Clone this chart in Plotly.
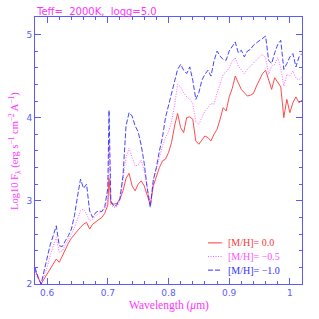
import plotly.graph_objects as go

wavelength = [0.580, 0.585, 0.590, 0.595, 0.600, 0.605, 0.610, 0.615, 0.620, 0.625,
              0.630, 0.635, 0.640, 0.645, 0.650, 0.655, 0.660, 0.665, 0.670, 0.675,
              0.680, 0.685, 0.690, 0.695, 0.700, 0.702, 0.705, 0.710, 0.715, 0.720,
              0.725, 0.730, 0.735, 0.740, 0.745, 0.750, 0.755, 0.760, 0.765, 0.770,
              0.775, 0.780, 0.785, 0.790, 0.795, 0.800, 0.805, 0.810, 0.815, 0.820,
              0.825, 0.830, 0.835, 0.840, 0.845, 0.850, 0.855, 0.860, 0.865, 0.870,
              0.875, 0.880, 0.885, 0.890, 0.895, 0.900, 0.905, 0.910, 0.915, 0.920,
              0.925, 0.930, 0.935, 0.940, 0.945, 0.950, 0.955, 0.960, 0.965, 0.970,
              0.975, 0.980, 0.985, 0.990, 0.995, 1.000, 1.005, 1.010, 1.015, 1.020]

flux_m00 = [2.17, 2.08, 2.00, 2.06, 2.12, 2.18, 2.24, 2.30, 2.26, 2.34,
            2.40, 2.49, 2.55, 2.60, 2.64, 2.68, 2.72, 2.74, 2.66, 2.72,
            2.75, 2.78, 2.80, 2.85, 2.95, 3.27, 2.97, 2.96, 2.97, 3.02,
            3.12, 3.27, 3.33, 3.18, 3.12, 3.20, 3.24, 3.18, 3.05, 2.95,
            3.18, 3.30, 3.40, 3.48, 3.50, 3.58, 3.70, 3.90, 4.05, 3.88,
            3.82, 4.00, 4.01, 3.98, 3.72, 3.68, 3.73, 3.78, 3.76, 3.72,
            3.80, 3.86, 3.98, 4.12, 4.08, 4.25, 4.35, 4.50, 4.42, 4.34,
            4.30, 4.26, 4.27, 4.29, 4.38, 4.45, 4.53, 4.57, 4.45, 4.34,
            4.48, 4.42, 4.37, 4.00, 4.22, 4.06, 4.18, 4.25, 4.18, 4.21]

flux_m05 = [2.15, 2.06, 2.00, 2.10, 2.20, 2.34, 2.44, 2.56, 2.38, 2.40,
            2.47, 2.53, 2.60, 2.68, 2.78, 2.88, 2.90, 2.84, 2.76, 2.78,
            2.82, 2.85, 2.87, 2.90, 3.02, 3.70, 2.95, 2.92, 2.93, 3.00,
            3.25, 3.52, 3.63, 3.52, 3.42, 3.43, 3.49, 3.36, 3.15, 2.95,
            3.25, 3.40, 3.52, 3.66, 3.76, 3.83, 3.95, 4.15, 4.40, 4.37,
            4.30, 4.25, 4.22, 4.17, 3.95, 3.92, 4.00, 4.08, 4.12, 4.17,
            4.16, 4.30, 4.40, 4.52, 4.55, 4.60, 4.68, 4.72, 4.62, 4.57,
            4.53, 4.58, 4.62, 4.66, 4.70, 4.73, 4.76, 4.72, 4.52, 4.62,
            4.64, 4.72, 4.60, 4.38, 4.52, 4.50, 4.56, 4.48, 4.45, 4.49]

flux_m10 = [2.20, 2.08, 2.00, 2.15, 2.30, 2.47, 2.58, 2.70, 2.46, 2.45,
            2.52, 2.58, 2.66, 2.82, 3.05, 3.26, 3.15, 3.20, 2.88, 2.80,
            2.86, 2.88, 2.87, 2.93, 3.15, 4.09, 3.00, 2.93, 2.95, 3.03,
            3.30, 3.90, 4.06, 4.02, 3.90, 3.83, 3.67, 3.45, 3.15, 2.92,
            3.25, 3.40, 3.60, 3.76, 4.00, 4.15, 4.30, 4.45, 4.58, 4.64,
            4.57, 4.53, 4.61, 4.45, 4.22, 4.30, 4.45, 4.52, 4.57, 4.50,
            4.68, 4.80, 4.74, 4.70, 4.69, 4.80, 4.86, 4.91, 4.78, 4.81,
            4.73, 4.80, 4.82, 4.87, 4.90, 4.93, 4.96, 4.98, 4.69, 4.65,
            4.78, 4.88, 4.93, 4.58, 4.65, 4.73, 4.77, 4.61, 4.73, 4.77]

series_labels = ["[M/H]= 0.0", "[M/H]= \u22120.5", "[M/H]= \u22121.0"]
series_colors = ["#ff3838", "#ff50ff", "#2f2fff"]
series_dash = ["solid", "1px,1.5px", "5px,2px"]
x_ticks = [0.6, 0.7, 0.8, 0.9, 1.0]
x_tick_text = ["0.6", "0.7", "0.8", "0.9", "1"]
y_ticks = [2, 3, 4, 5]

axis_blue = "#5a5aff"
magenta = "#ff33ff"

fig = go.Figure()
for ys, col, dash in zip([flux_m00, flux_m05, flux_m10], series_colors, series_dash):
    fig.add_trace(go.Scatter(x=wavelength, y=ys, mode="lines",
                             line=dict(color=col, width=0.9, dash=dash),
                             showlegend=False, hoverinfo="skip"))

common_axis = dict(showline=True, linecolor=axis_blue, linewidth=1, mirror="allticks",
                   ticks="inside", ticklen=6, tickcolor=axis_blue, tickwidth=1,
                   showgrid=False, zeroline=False,
                   tickfont=dict(family="DejaVu Sans", size=9, color=axis_blue))

fig.update_xaxes(range=[0.58, 1.02], tickvals=x_ticks, ticktext=x_tick_text,
                 minor=dict(dtick=0.02, tick0=0.6, ticks="inside", ticklen=3,
                            tickcolor=axis_blue, showgrid=False),
                 **common_axis)
fig.update_yaxes(range=[2, 5.21], tickvals=y_ticks,
                 minor=dict(dtick=0.2, tick0=2, ticks="inside", ticklen=3,
                            tickcolor=axis_blue, showgrid=False),
                 **common_axis)

annotations = [
    dict(text="Teff=\u00a0 2000K,\u00a0 logg=5.0", x=-0.004, y=1.019, xref="paper", yref="paper",
         xanchor="left", yanchor="middle", showarrow=False,
         font=dict(family="DejaVu Sans", size=10, color=magenta)),
    dict(text="Wavelength (<i>\u03bc</i>m)", x=0.5, y=-0.082, xref="paper", yref="paper",
         xanchor="center", yanchor="middle", showarrow=False,
         font=dict(family="Liberation Serif", size=11.5, color=magenta)),
    dict(text="Log10 F<sub>\u03bb</sub> (erg s<sup>\u22121</sup> cm<sup>\u22122</sup> A<sup>\u22121</sup>)",
         x=-0.077, y=0.5, xref="paper", yref="paper", textangle=-90,
         xanchor="center", yanchor="middle", showarrow=False,
         font=dict(family="Liberation Serif", size=10.5, color=magenta)),
]
shapes = []
legend_rows = [0.154, 0.103, 0.052]
for lab, col, dash, yy in zip(series_labels, series_colors, series_dash, legend_rows):
    shapes.append(dict(type="line", xref="paper", yref="paper", x0=0.648, x1=0.700,
                       y0=yy, y1=yy, line=dict(color=col, width=1, dash=dash)))
    annotations.append(dict(text=lab, x=0.715, y=yy, xref="paper", yref="paper",
                            xanchor="left", yanchor="middle", showarrow=False,
                            font=dict(family="Liberation Serif", size=10, color=col)))

fig.update_layout(width=319, height=319, margin=dict(l=35, r=17, t=17, b=35),
                  paper_bgcolor="white", plot_bgcolor="white",
                  annotations=annotations, shapes=shapes, showlegend=False)

fig.write_html("out.html", config={"displayModeBar": False},
               post_script="document.body.style.margin='0';document.body.style.overflow='hidden';")
